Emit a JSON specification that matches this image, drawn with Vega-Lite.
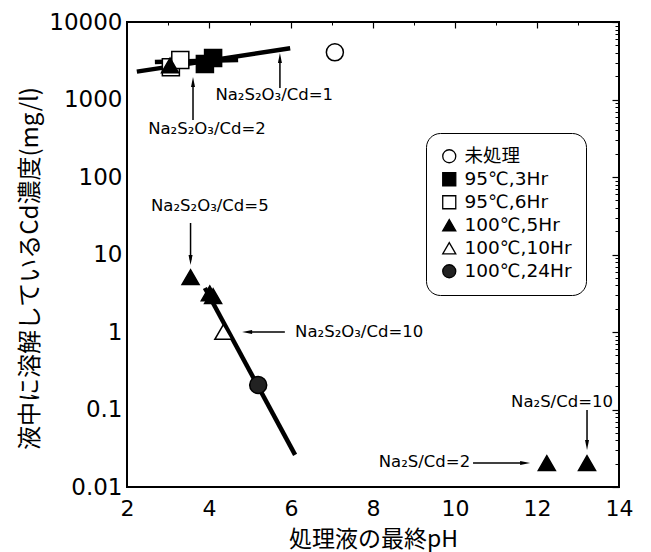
{
  "$schema": "https://vega.github.io/schema/vega-lite/v6.json",
  "width": 492,
  "height": 465,
  "autosize": "none",
  "padding": {"left": 127, "top": 22, "right": 32, "bottom": 65},
  "background": "white",
  "view": {"stroke": "black", "strokeWidth": 2},
  "config": {
    "font": "DejaVu Sans",
    "axis": {"labelColor": "black", "titleColor": "black", "tickColor": "black", "grid": false, "domain": false},
    "legend": {"orient": "none", "legendX": 299, "legendY": 111, "title": null, "strokeColor": "black", "cornerRadius": 14, "padding": 14, "symbolSize": 170, "labelFontSize": 18.5, "labelFont": "DejaVu Sans, Noto Sans CJK JP", "rowPadding": 4, "symbolStrokeWidth": 1.3, "labelOffset": 6, "fillColor": "white", "labelColor": "black"}
  },
  "datasets": {
    "lines": [
      {"id": "a", "pH": 2.24, "cd": 2290},
      {"id": "a", "pH": 5.98, "cd": 4575},
      {"id": "b", "pH": 2.68, "cd": 3050},
      {"id": "b", "pH": 4.71, "cd": 3240},
      {"id": "c", "pH": 3.9, "cd": 3.7},
      {"id": "c", "pH": 6.1, "cd": 0.026}
    ],
    "points": [
      {"pH": 3.07, "cd": 2600, "cond": "95℃,6Hr"},
      {"pH": 3.30, "cd": 3240, "cond": "95℃,6Hr"},
      {"pH": 3.90, "cd": 2870, "cond": "95℃,3Hr"},
      {"pH": 4.10, "cd": 3430, "cond": "95℃,3Hr"},
      {"pH": 3.05, "cd": 2750, "cond": "100℃,5Hr"},
      {"pH": 7.07, "cd": 4060, "cond": "未処理"},
      {"pH": 3.55, "cd": 5.1, "cond": "100℃,5Hr"},
      {"pH": 4.02, "cd": 3.16, "cond": "100℃,5Hr"},
      {"pH": 4.10, "cd": 2.9, "cond": "100℃,5Hr"},
      {"pH": 4.35, "cd": 1.0, "cond": "100℃,10Hr"},
      {"pH": 5.2, "cd": 0.207, "cond": "100℃,24Hr"},
      {"pH": 12.24, "cd": 0.0204, "cond": "100℃,5Hr"},
      {"pH": 13.22, "cd": 0.0204, "cond": "100℃,5Hr"}
    ],
    "arrows": [
      {"x": 5.73, "y": 1406, "x2": 5.73, "y2": 3430},
      {"x": 3.61, "y": 543, "x2": 3.61, "y2": 1683},
      {"x": 3.55, "y": 25.5, "x2": 3.55, "y2": 8.5},
      {"x": 5.85, "y": 1, "x2": 4.93, "y2": 1},
      {"x": 13.22, "y": 0.0986, "x2": 13.22, "y2": 0.0348},
      {"x": 10.44, "y": 0.0204, "x2": 11.71, "y2": 0.0204}
    ],
    "heads_up": [
      {"x": 5.73, "y": 3430},
      {"x": 3.61, "y": 1683}
    ],
    "heads_down": [
      {"x": 3.55, "y": 8.5},
      {"x": 13.22, "y": 0.0348}
    ],
    "heads_left": [
      {"x": 4.93, "y": 1}
    ],
    "heads_right": [
      {"x": 11.71, "y": 0.0204}
    ],
    "labels_center": [
      {"x": 5.59, "y": 1143, "label": "Na₂S₂O₃/Cd=1"},
      {"x": 3.95, "y": 420, "label": "Na₂S₂O₃/Cd=2"},
      {"x": 4.02, "y": 42, "label": "Na₂S₂O₃/Cd=5"},
      {"x": 12.61, "y": 0.125, "label": "Na₂S/Cd=10"}
    ],
    "labels_left": [
      {"x": 6.1, "y": 1, "label": "Na₂S₂O₃/Cd=10"}
    ],
    "labels_right": [
      {"x": 10.37, "y": 0.021, "label": "Na₂S/Cd=2"}
    ]
  },
  "layer": [
    {
      "data": {"name": "lines"},
      "mark": {"type": "line", "stroke": "black", "strokeWidth": 4.5},
      "encoding": {
        "x": {"field": "pH", "type": "quantitative",
          "scale": {"domain": [2, 14], "nice": false, "zero": false},
          "axis": {"title": "処理液の最終pH", "values": [2, 4, 6, 8, 10, 12, 14], "ticks": false, "labelFontSize": 22, "labelPadding": 11, "labelFlush": false,
            "titleFont": "Noto Sans CJK JP", "titleFontSize": 23, "titleFontWeight": "normal", "titleY": 52, "titleBaseline": "middle"}},
        "y": {"field": "cd", "type": "quantitative",
          "scale": {"type": "log", "domain": [0.01, 10000], "nice": false},
          "axis": {"title": "液中に溶解しているCd濃度(mg/l)", "values": [0.01, 0.1, 1, 10, 100, 1000, 10000], "format": "~f", "ticks": false, "labelFontSize": 23, "labelPadding": 5, "labelFlush": false,
            "titleFont": "Noto Sans CJK JP", "titleFontSize": 24, "titleFontWeight": "normal", "titleX": -97, "titleY": 246, "titleBaseline": "middle", "titleAngle": -90}},
        "detail": {"field": "id", "type": "nominal"}
      }
    },
    {
      "data": {"name": "points"},
      "mark": {"type": "point", "filled": true, "strokeWidth": 1.5, "size": 290, "opacity": 1},
      "encoding": {
        "x": {"field": "pH", "type": "quantitative", "scale": {"domain": [2, 14], "nice": false, "zero": false},
          "axis": {"values": [4, 6, 8, 10, 12], "labels": false, "tickSize": -6, "tickWidth": 1.2, "title": null}},
        "y": {"field": "cd", "type": "quantitative", "scale": {"type": "log", "domain": [0.01, 10000], "nice": false},
          "axis": {"values": [0.01, 0.1, 1, 10, 100, 1000, 10000], "labels": false, "tickSize": -7, "tickWidth": 1.2, "title": null}},
        "shape": {"field": "cond", "type": "nominal",
          "scale": {"domain": ["未処理", "95℃,3Hr", "95℃,6Hr", "100℃,5Hr", "100℃,10Hr", "100℃,24Hr"],
            "range": ["circle", "square", "square", "triangle-up", "triangle-up", "circle"]}},
        "fill": {"field": "cond", "type": "nominal",
          "scale": {"domain": ["未処理", "95℃,3Hr", "95℃,6Hr", "100℃,5Hr", "100℃,10Hr", "100℃,24Hr"],
            "range": ["white", "black", "white", "black", "white", "#222222"]}},
        "stroke": {"field": "cond", "type": "nominal",
          "scale": {"domain": ["未処理", "95℃,3Hr", "95℃,6Hr", "100℃,5Hr", "100℃,10Hr", "100℃,24Hr"],
            "range": ["black", "black", "black", "black", "black", "black"]}}
      }
    },
    {
      "data": {"name": "arrows"},
      "mark": {"type": "rule", "strokeWidth": 1.5, "color": "black"},
      "encoding": {
        "x": {"field": "x", "type": "quantitative", "scale": {"domain": [2, 14], "nice": false, "zero": false},
          "axis": {"values": [3, 5, 7, 9, 11, 13], "labels": false, "tickSize": -3, "tickWidth": 1, "title": null}},
        "y": {"field": "y", "type": "quantitative", "scale": {"type": "log", "domain": [0.01, 10000], "nice": false},
          "axis": {"values": [0.02, 0.03, 0.04, 0.05, 0.06, 0.07, 0.08, 0.09, 0.2, 0.3, 0.4, 0.5, 0.6, 0.7, 0.8, 0.9, 2, 3, 4, 5, 6, 7, 8, 9, 20, 30, 40, 50, 60, 70, 80, 90, 200, 300, 400, 500, 600, 700, 800, 900, 2000, 3000, 4000, 5000, 6000, 7000, 8000, 9000], "labels": false, "tickSize": -4, "tickWidth": 1, "title": null}},
        "x2": {"field": "x2"},
        "y2": {"field": "y2"}
      }
    },
    {
      "data": {"name": "heads_up"},
      "mark": {"type": "point", "filled": true, "color": "black", "size": 100, "strokeWidth": 0, "opacity": 1, "shape": "M0,-1L0.4,1L-0.4,1Z"},
      "encoding": {
        "x": {"field": "x", "type": "quantitative", "axis": null},
        "y": {"field": "y", "type": "quantitative", "axis": null}
      }
    },
    {
      "data": {"name": "heads_down"},
      "mark": {"type": "point", "filled": true, "color": "black", "size": 100, "strokeWidth": 0, "opacity": 1, "shape": "M0,1L0.4,-1L-0.4,-1Z"},
      "encoding": {
        "x": {"field": "x", "type": "quantitative", "axis": null},
        "y": {"field": "y", "type": "quantitative", "axis": null}
      }
    },
    {
      "data": {"name": "heads_left"},
      "mark": {"type": "point", "filled": true, "color": "black", "size": 100, "strokeWidth": 0, "opacity": 1, "shape": "M-1,0L1,-0.4L1,0.4Z"},
      "encoding": {
        "x": {"field": "x", "type": "quantitative", "axis": null},
        "y": {"field": "y", "type": "quantitative", "axis": null}
      }
    },
    {
      "data": {"name": "heads_right"},
      "mark": {"type": "point", "filled": true, "color": "black", "size": 100, "strokeWidth": 0, "opacity": 1, "shape": "M1,0L-1,-0.4L-1,0.4Z"},
      "encoding": {
        "x": {"field": "x", "type": "quantitative", "axis": null},
        "y": {"field": "y", "type": "quantitative", "axis": null}
      }
    },
    {
      "data": {"name": "labels_center"},
      "mark": {"type": "text", "align": "center", "baseline": "middle", "fontSize": 16.5, "font": "DejaVu Sans", "color": "black"},
      "encoding": {
        "x": {"field": "x", "type": "quantitative", "axis": null},
        "y": {"field": "y", "type": "quantitative", "axis": null},
        "text": {"field": "label"}
      }
    },
    {
      "data": {"name": "labels_left"},
      "mark": {"type": "text", "align": "left", "baseline": "middle", "fontSize": 16.5, "font": "DejaVu Sans", "color": "black"},
      "encoding": {
        "x": {"field": "x", "type": "quantitative", "axis": null},
        "y": {"field": "y", "type": "quantitative", "axis": null},
        "text": {"field": "label"}
      }
    },
    {
      "data": {"name": "labels_right"},
      "mark": {"type": "text", "align": "right", "baseline": "middle", "fontSize": 16.5, "font": "DejaVu Sans", "color": "black"},
      "encoding": {
        "x": {"field": "x", "type": "quantitative", "axis": null},
        "y": {"field": "y", "type": "quantitative", "axis": null},
        "text": {"field": "label"}
      }
    }
  ],
  "resolve": {"axis": {"x": "independent", "y": "independent"}}
}
